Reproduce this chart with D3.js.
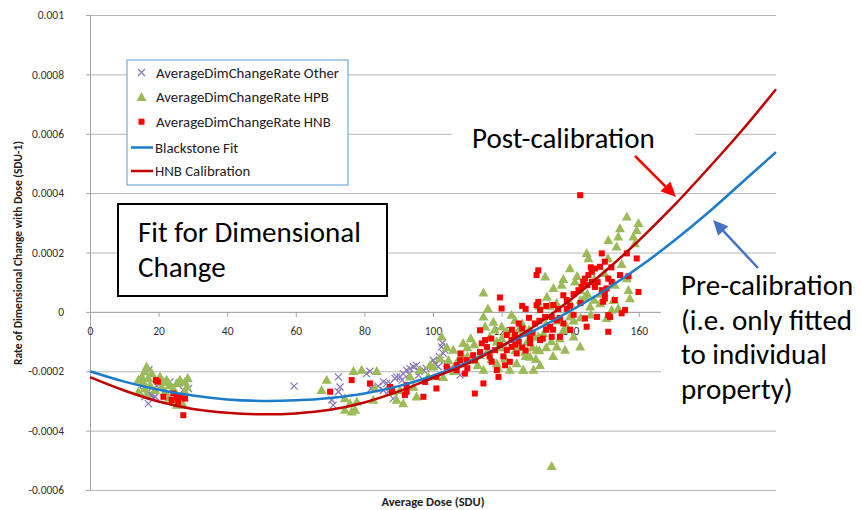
<!DOCTYPE html>
<html>
<head>
<meta charset="utf-8">
<script src="https://cdn.jsdelivr.net/npm/d3@7"></script>
<style>
  body { margin: 0; background: #fff; }
  svg text { font-family: Carlito, Lato, sans-serif; }
</style>
</head>
<body>
<div id="chart"></div>
<script>
// axis ticks (labels past 160 sit under the callout box, so none are shown)
var xTicks = [0, 20, 40, 60, 80, 100, 120, 140, 160, 180, 200];
var xTickLabels = ["0", "20", "40", "60", "80", "100", "120", "140", "160", "", ""];
var yTicks = [-0.0006, -0.0004, -0.0002, 0, 0.0002, 0.0004, 0.0006, 0.0008, 0.001];
var yTickLabels = ["-0.0006", "-0.0004", "-0.0002", "0", "0.0002", "0.0004", "0.0006", "0.0008", "0.001"];

// fitted curves
var fitDose = [0, 10, 20, 30, 40, 50, 60, 70, 80, 90, 100, 110, 120, 130, 140, 150, 160, 170, 180, 190, 200];
var blackstoneFit = [-0.0002, -0.000235, -0.000262, -0.000282, -0.000295, -0.0003, -0.000298, -0.00029, -0.000275, -0.00025,
  -0.000215, -0.00017, -0.000115, -0.00006, 0.000003, 0.000072, 0.00015, 0.000237, 0.000332, 0.000435, 0.000538];
var hnbCalibration = [-0.00022, -0.000265, -0.000302, -0.000327, -0.00034, -0.000345, -0.000342, -0.00033, -0.000305, -0.000268,
  -0.000222, -0.000175, -0.000115, -0.000045, 0.00004, 0.000135, 0.00024, 0.000355, 0.00048, 0.00061, 0.00075];

// scatter series [dose, rate]
var otherPoints = [
  [15.5,-0.000265],[16,-0.000286],[16.9,-0.000269],[17,-0.000309],[17.5,-0.000275],[18,-0.00028],[18.5,-0.000292],
  [19,-0.000285],[17.2,-0.000195],[21,-0.000235],[23.3,-0.000236],[26,-0.00024],[27.2,-0.000264],[28.7,-0.000258],[19.5,-0.00025],
  [59.5,-0.00025],
  [72.4,-0.000219],[72.9,-0.000253],[72.4,-0.000269],[70.5,-0.000297],[70.9,-0.000314],[81.6,-0.0002],[80.6,-0.000208],
  [85.5,-0.000236],[87.5,-0.000241],[88.9,-0.000224],[90.4,-0.000219],[91.3,-0.000208],[92.3,-0.000196],[93.3,-0.000191],
  [94.3,-0.000185],[95.2,-0.00018],[95.8,-0.000213],[100.1,-0.000163],[100.6,-0.000174],[87,-0.000269],[88.4,-0.000292],
  [102.5,-0.000118],[103,-0.00014],[102,-0.000163],[103.5,-0.000129],[101.5,-0.000185],[97.2,-0.000196],[89.4,-0.000219],
  [86.5,-0.000241],[85.5,-0.000264],[104,-0.000174],[98,-0.00019],[96,-0.0002],[93,-0.00021],[91,-0.00023],[84,-0.00025],
  [82,-0.000258],[102.8,-0.000105],[101.8,-0.00015],[106.9,-0.000196],[107.9,-0.000213],[105,-0.00019]
];
var hpbPoints = [
  [16.5,-0.000185],[16,-0.000202],[15.1,-0.000219],[14.1,-0.00023],[15.5,-0.000236],[17,-0.000224],[18,-0.000207],
  [17.5,-0.000247],[16,-0.000258],[19,-0.000264],[20.4,-0.000219],[21.4,-0.000236],[20.9,-0.000253],[22.4,-0.00023],
  [23.3,-0.000247],[21.9,-0.000269],[24.3,-0.000258],[25.3,-0.000241],[26.2,-0.00023],[27.7,-0.000236],[28.5,-0.000224],
  [28.2,-0.000253],[27.7,-0.000269],[26.2,-0.000292],[24.8,-0.000303],[27.2,-0.000314],[25.3,-0.000314],[14.1,-0.000269],
  [16.5,-0.00028],[23,-0.00029],
  [69,-0.00023],[67.5,-0.000264],[74.3,-0.000292],[74.3,-0.000331],[76.3,-0.000337],[77.3,-0.000331],[75.8,-0.000309],
  [76.8,-0.0002],[79.2,-0.000196],[83.6,-0.0002],[83.1,-0.000258],[82.6,-0.000297],[90.4,-0.000264],[93.3,-0.000219],
  [94.3,-0.000253],[91.3,-0.000309],[95.2,-0.000286],[96.2,-0.000196],[99.1,-0.00018],[98.6,-0.000219],[88.4,-0.000269],
  [89.4,-0.000297],[77.8,-0.000303],
  [102.5,-0.000084],[114.7,0.000064],[114.7,-0.000017],[115.2,-0.00005],[117.6,-0.000034],[122.9,-0.000011],[123.9,-0.000028],
  [121.5,-0.000067],[123.4,-0.000084],[125.4,-0.000118],[126.8,-0.000135],[126.3,-0.000196],[129.3,-0.000196],[124.4,-0.000174],
  [122.4,-0.000196],[121,-0.000157],[118.6,-0.000101],[116.6,-0.000084],[113.7,-0.000146],[112.2,-0.000163],[108.8,-0.000106],
  [108.4,-0.000146],[105.9,-0.000129],[104.5,-0.000163],[102,-0.000157],[100.1,-0.000185],[114.7,-0.000196],[118.6,-0.000174],
  [130.2,-0.000129],[130.7,-0.000084],[128.3,-0.000152],[110,-0.00012],[111,-0.00009],[120,-0.00005],[119,-0.00012],
  [125,-0.00006],[127.5,-0.0001],[116,-0.00013],[106,-0.0002],[103,-0.00022],
  [110,-0.00015],[112,-0.00011],[117,-0.00016],[119,-0.00019],[121,-0.00012],[124,-0.00013],[127,-0.00015],[128,-0.00006],
  [129,-0.00012],[131,-0.00013],[133,-0.00012],[135,-0.00015],[137,-0.00009],[139,-0.00005],[141,-0.00003],[143,0.00004],
  [145,0.00006],[147,0.00004],[149,0.00006],[146,-0.00001],[142,0.00012],[138,0.00011],[136,0.00003],[133,-0.00004],
  [131,0.00002],[120,-0.00009],[118,-0.00006],[116,0.00001],[113,-0.00018],[107,-0.00017],[104,-0.00012],[126,-0.00004],
  [130,-0.00016],[151,0.00018],[155,0.00016],[153,0.00009],
  [156.5,0.00032],[159.9,0.000298],[159.4,0.000275],[154.5,0.000281],[154,0.000253],[151.1,0.000241],[158.4,0.000253],
  [158.9,0.00023],[153.5,0.000219],[144.8,0.000197],[145.3,0.00018],[139.9,0.000146],[132.7,0.000118],[137.5,0.00009],
  [135.1,0.000079],[133.2,0.00005],[141.4,0.000101],[142.9,0.000073],[144.3,0.00005],[148.7,0.000028],[152.6,0.000039],
  [156.5,0.000112],[157,0.000073],[157.4,0.000045],[154,0.000011],[150.6,-0.000022],[145.8,0.000017],[139.9,-0.000017],
  [138,-0.000062],[136.1,-0.000118],[142.9,-0.000118],[141,-0.000084],[132.2,-0.000073],[129.3,-0.000084],[138.5,-0.000129],
  [131.2,-0.00018],[126.3,-0.000196],[152.1,0.000006],[134,0.00002],[136,-0.00003],[140,0.00003],[147,0.00011],[150,0.00013],
  [143,-0.00002],[134.5,-0.0001],
  [134.6,-0.00052]
];
var hnbPoints = [
  [19.2,-0.00023],[19.8,-0.000235],[21.4,-0.000286],[24.3,-0.000275],[25.3,-0.000286],[26.7,-0.000286],[27.7,-0.000292],
  [25.7,-0.000303],[27.2,-0.000348],[23.8,-0.000297],
  [76.3,-0.00023],[70,-0.000269],[81.6,-0.000241],[87.5,-0.000253],[88,-0.000264],[92.3,-0.000247],[92.3,-0.000269],
  [91.8,-0.00028],[97.2,-0.000286],[97.7,-0.000236],[101,-0.000219],[101,-0.000258],
  [119.5,0.0000485],[120,0.0000114],[113.7,-0.000062],[115.2,-0.000095],[114.2,-0.000106],[119.5,-0.000112],[121.5,-0.000129],
  [122.9,-0.000095],[123.9,-0.000078],[125,-0.000039],[126,-0.000056],[127.3,-0.000073],[128.3,-0.00009],[130.2,0.0000226],
  [130.7,0.0000337],[111.7,-0.000146],[112.2,-0.000163],[109.8,-0.000163],[107.9,-0.000163],[106.9,-0.00018],[106.9,-0.000196],
  [104,-0.000185],[109.3,-0.000208],[114.7,-0.000241],[112.2,-0.000275],[118.6,-0.000196],[119.1,-0.000219],[117.1,-0.000168],
  [122.4,-0.000168],[113.7,-0.000135],[115.7,-0.000118],[118.1,-0.000129],[124.4,-0.00014],[128.3,-0.000106],[121.5,-0.000078],
  [122.9,-0.000118],[116.5,-0.00015],[120.5,-0.00015],[126,-0.00012],
  [117,-0.00009],[121,-0.00018],[123,-0.00006],[125,-0.0001],[127,-0.00013],[129,-0.00007],[131,-0.00003],[133,0.00002],
  [135,-0.00006],[137,-0.00002],[139,0.00004],[141,0.00006],[143,0.00003],[145,0.00009],[148,0.0001],[152,0.00015],
  [153,0.00004],[157,0.00012],[110,-0.00019],[108,-0.00014],[126,0.00002],[132,-0.00009],[124,-0.00011],[146,0.00015],
  [140,-0.00006],
  [142.9,0.000393],[130.7,0.00014],[130.2,0.000124],[138,0.000056],[135.1,0.000023],[131.2,0.000006],[132.7,-0.000017],
  [134.6,-0.000017],[136.1,-0.000028],[138,-0.000039],[134.1,-0.00005],[129.7,-0.000039],[131.2,-0.000095],[134.6,-0.000084],
  [137,-0.000084],[144.8,-0.00005],[151.1,-0.000067],[149.2,0.000197],[150.1,0.000169],[148.7,0.000152],[147.2,0.000146],
  [146.3,0.000135],[145.3,0.000124],[144.3,0.000112],[143.8,0.000101],[143.3,0.000084],[142.4,0.000073],[146.3,0.000101],
  [147.2,0.000084],[149.2,0.000073],[151.1,0.000112],[150.6,0.000079],[152.1,0.000101],[154.5,0.000124],[159.4,0.00018],
  [156.5,0.000197],[150.1,0.000062],[150.1,0.000045],[149.6,0.000034],[151.1,-0.000011],[151.6,-0.000017],[155,-0.000005],
  [156,0.000006],[159.9,0.000067],[147.8,-0.000017],[144.3,-0.000022],[140,0.00002],[141,-0.00001],[133,-0.00006],
  [139,0.00001],[136.5,0.00001],[128,-0.00002],[127,0.00001]
];

var legendNames = ["AverageDimChangeRate Other", "AverageDimChangeRate HPB", "AverageDimChangeRate HNB", "Blackstone Fit", "HNB Calibration"];

// colours
var otherColor = "#8a76b5", hpbColor = "#9bbb59", hnbColor = "#ff0000";
var fitColor = "#1a7ccb", calColor = "#c00000";

// layout
var width = 861, height = 510;
var plot = {left: 90, right: 776, top: 15, bottom: 490};

var svg = d3.select("#chart")
  .append("svg")
  .attr("width", width)
  .attr("height", height);

var x = d3.scaleLinear().domain([0, 200]).range([plot.left, plot.right]);
var y = d3.scaleLinear().domain([-0.0006, 0.001]).range([plot.bottom, plot.top]);

// horizontal gridlines
svg.append("g")
  .attr("transform", "translate(" + plot.left + ",0)")
  .call(d3.axisLeft(y).tickValues(yTicks).tickSize(-(plot.right - plot.left)).tickFormat(""))
  .call(function(g) { g.select(".domain").remove(); })
  .selectAll("line").attr("stroke", "#b5b5b5");

// y axis
var yAxis = svg.append("g")
  .attr("transform", "translate(" + plot.left + ",0)")
  .call(d3.axisLeft(y)
    .tickValues(yTicks)
    .tickSize(4)
    .tickSizeOuter(0)
    .tickPadding(22)
    .tickFormat(function(d, i) { return yTickLabels[i]; }));
yAxis.selectAll("path, line").attr("stroke", "#a6a6a6");
yAxis.selectAll("text").attr("font-size", 11.5).attr("fill", "#333").attr("font-family", null);

// x axis crosses at zero
var xAxis = svg.append("g")
  .attr("transform", "translate(0," + y(0) + ")")
  .call(d3.axisBottom(x)
    .tickValues(xTicks)
    .tickSize(5)
    .tickSizeOuter(0)
    .tickPadding(10)
    .tickFormat(function(d, i) { return xTickLabels[i]; }));
xAxis.selectAll("path, line").attr("stroke", "#a6a6a6");
xAxis.selectAll("text").attr("font-size", 11.5).attr("fill", "#333").attr("font-family", null);

// axis titles
svg.append("text")
  .attr("transform", "translate(22," + 253 + ") rotate(-90)")
  .attr("text-anchor", "middle")
  .attr("font-size", 11.5)
  .attr("font-weight", "bold")
  .attr("fill", "#222")
  .text("Rate of Dimensional Change with Dose (SDU-1)");

svg.append("text")
  .attr("x", (plot.left + plot.right) / 2)
  .attr("y", 506)
  .attr("text-anchor", "middle")
  .attr("font-size", 12.5)
  .attr("font-weight", "bold")
  .attr("fill", "#222")
  .text("Average Dose (SDU)");

// marker shapes
var crossPath = "M-3.5,-3.5L3.5,3.5M-3.5,3.5L3.5,-3.5";
var triPath = "M0,-5.3L5,3.7L-5,3.7Z";

svg.append("g").selectAll("path")
  .data(otherPoints)
  .enter().append("path")
  .attr("transform", function(d) { return "translate(" + x(d[0]) + "," + y(d[1]) + ")"; })
  .attr("d", crossPath)
  .attr("stroke", otherColor)
  .attr("stroke-width", 1.2)
  .attr("fill", "none");

svg.append("g").selectAll("path")
  .data(hpbPoints)
  .enter().append("path")
  .attr("transform", function(d) { return "translate(" + x(d[0]) + "," + y(d[1]) + ")"; })
  .attr("d", triPath)
  .attr("fill", hpbColor);

svg.append("g").selectAll("rect")
  .data(hnbPoints)
  .enter().append("rect")
  .attr("x", function(d) { return x(d[0]) - 3; })
  .attr("y", function(d) { return y(d[1]) - 3; })
  .attr("width", 6)
  .attr("height", 6)
  .attr("fill", hnbColor);

// fitted curves
var line = d3.line()
  .x(function(d) { return x(d[0]); })
  .y(function(d) { return y(d[1]); })
  .curve(d3.curveCatmullRom);

svg.append("path")
  .datum(fitDose.map(function(d, i) { return [d, blackstoneFit[i]]; }))
  .attr("d", line)
  .attr("fill", "none")
  .attr("stroke", fitColor)
  .attr("stroke-width", 2.5);

svg.append("path")
  .datum(fitDose.map(function(d, i) { return [d, hnbCalibration[i]]; }))
  .attr("d", line)
  .attr("fill", "none")
  .attr("stroke", calColor)
  .attr("stroke-width", 2.5);

// legend
var legend = svg.append("g");
legend.append("rect")
  .attr("x", 127).attr("y", 60)
  .attr("width", 221).attr("height", 125)
  .attr("fill", "#fff")
  .attr("stroke", "#5b9bd5")
  .attr("stroke-width", 1);

var rowY = [72.5, 97.3, 121.7, 147.5, 171];
legend.append("path")
  .attr("transform", "translate(141.5," + rowY[0] + ")")
  .attr("d", crossPath).attr("stroke", otherColor).attr("stroke-width", 1.2);
legend.append("path")
  .attr("transform", "translate(141.5," + rowY[1] + ")")
  .attr("d", triPath).attr("fill", hpbColor);
legend.append("rect")
  .attr("x", 138.5).attr("y", rowY[2] - 3).attr("width", 6).attr("height", 6).attr("fill", hnbColor);
[fitColor, calColor].forEach(function(c, i) {
  legend.append("line")
    .attr("x1", 131).attr("x2", 153)
    .attr("y1", rowY[3 + i]).attr("y2", rowY[3 + i])
    .attr("stroke", c).attr("stroke-width", 2.5);
});
legend.selectAll("text.lab")
  .data(legendNames)
  .enter().append("text")
  .attr("class", "lab")
  .attr("x", function(d, i) { return i < 3 ? 156 : 155; })
  .attr("y", function(d, i) { return rowY[i]; })
  .attr("dy", "0.35em")
  .attr("font-size", 14.8)
  .attr("fill", "#222")
  .text(function(d) { return d; });

// "Fit for Dimensional Change" box
svg.append("rect")
  .attr("x", 118).attr("y", 204)
  .attr("width", 269).attr("height", 92)
  .attr("fill", "#fff")
  .attr("stroke", "#000")
  .attr("stroke-width", 2);
svg.append("text").attr("x", 138).attr("y", 242).attr("font-size", 29).text("Fit for Dimensional");
svg.append("text").attr("x", 138).attr("y", 277).attr("font-size", 29).text("Change");

// callouts
svg.append("rect").attr("x", 452).attr("y", 118).attr("width", 243).attr("height", 45).attr("fill", "#fff");
svg.append("text").attr("x", 472).attr("y", 148).attr("font-size", 29).text("Post-calibration");

svg.append("rect").attr("x", 661).attr("y", 262).attr("width", 200).attr("height", 150).attr("fill", "#fff");
var preLines = ["Pre-calibration", "(i.e. only fitted", "to individual", "property)"];
svg.append("g").selectAll("text")
  .data(preLines)
  .enter().append("text")
  .attr("x", 681)
  .attr("y", function(d, i) { return 295 + i * 34.7; })
  .attr("font-size", 29)
  .text(function(d) { return d; });

// arrows
function arrow(x1, y1, x2, y2, color) {
  var a = Math.atan2(y2 - y1, x2 - x1), len = 15, half = 7;
  var bx = x2 - len * Math.cos(a), by = y2 - len * Math.sin(a);
  svg.append("line")
    .attr("x1", x1).attr("y1", y1).attr("x2", bx).attr("y2", by)
    .attr("stroke", color).attr("stroke-width", 2.5);
  svg.append("path")
    .attr("d", "M" + x2 + "," + y2 +
      "L" + (bx + half * Math.sin(a)) + "," + (by - half * Math.cos(a)) +
      "L" + (bx - half * Math.sin(a)) + "," + (by + half * Math.cos(a)) + "Z")
    .attr("fill", color);
}
arrow(635, 156, 676, 197, "#ff0000");
arrow(758, 268, 713, 220, "#4472c4");
</script>
</body>
</html>
